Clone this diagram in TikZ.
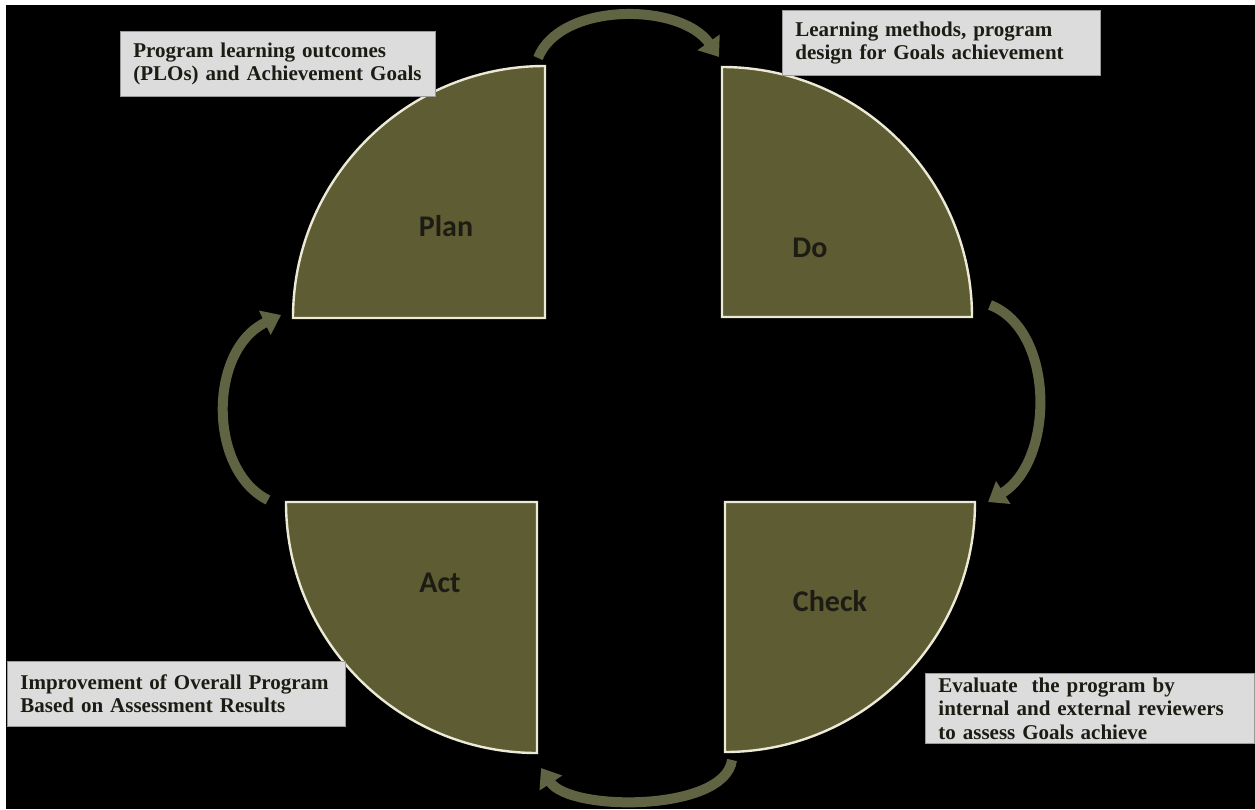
\documentclass[tikz,border=0pt]{standalone}
\usepackage{fontspec}
\setmainfont{Liberation Serif}
\newfontfamily\phasefont{Carlito}
\usepackage{tikz}
\usetikzlibrary{arrows.meta,calc}
\definecolor{olivec}{RGB}{94,92,50}
\definecolor{rimc}{RGB}{236,234,214}
\definecolor{turnc}{RGB}{96,100,66}
\definecolor{notec}{RGB}{220,220,220}
\definecolor{inkc}{RGB}{28,28,20}
\tikzset{
  phase/.style    = {fill=olivec, draw=rimc, line width=2.4pt, line join=miter},
  phaselbl/.style = {font=\phasefont\bfseries\fontsize{30}{34}\selectfont, text=inkc},
  note/.style     = {fill=notec, draw=notec!70!black, line width=0.8pt, anchor=north west,
                     align=left, inner xsep=13pt, inner ysep=0pt, text=inkc,
                     font=\bfseries\fontsize{21}{23.5}\selectfont},
  turn/.style     = {-{Triangle[length=18pt,width=26pt]}, line width=10pt, draw=turnc},
}

\begin{document}
\begin{tikzpicture}[x=1pt, y=1pt]

% ---- page and backdrop ----
\useasboundingbox (0,0) rectangle (1255,-809);
\fill[white] (0,0) rectangle (1255,-809);
\fill[black] (6,-5) rectangle (1255,-809);

% ---- the four quarters ----
\draw[phase] (545,-318) -- (293,-318) arc[start angle=180, end angle=90, radius=252] -- cycle;
\draw[phase] (722,-317) -- (722,-67) arc[start angle=90, end angle=0, radius=250] -- cycle;
\draw[phase] (537,-502) -- (537,-753) arc[start angle=270, end angle=180, radius=251] -- cycle;
\draw[phase] (725,-502) -- (975,-502) arc[start angle=0, end angle=-90, radius=250] -- cycle;

\node[phaselbl] (plan)  at (446,-226) {Plan};
\node[phaselbl] (do)    at (810,-248) {Do};
\node[phaselbl] (act)   at (440,-583) {Act};
\node[phaselbl] (check) at (830,-601) {Check};

% ---- notes ----
\node[note, text width=289pt, minimum height=65pt] (plannote) at (120,-31)
  {Program learning outcomes\\(PLOs) and Achievement Goals};
\node[note, text width=292pt, minimum height=65pt] (donote) at (782,-10)
  {Learning methods, program\\design for Goals achievement};
\node[note, text width=312pt, minimum height=65pt] (actnote) at (7,-661)
  {Improvement of Overall Program\\Based on Assessment Results};
\node[note, text width=303pt, minimum height=70pt] (checknote) at (925,-673)
  {Evaluate\ \ the program by\\internal and external reviewers\\to assess Goals achieve};

% ---- the cycle arrows ----
\coordinate (p1) at (538,-58);   \coordinate (d0) at (719,-57);
\coordinate (d1) at (990,-305);  \coordinate (c0) at (988,-502);
\coordinate (c1) at (732,-760);  \coordinate (a0) at (541,-768);
\coordinate (a1) at (268,-500);  \coordinate (p0) at (281,-315);
\draw[turn] (p1) .. controls (560,-2) and (680,-2) .. (d0);
\draw[turn] (d1) .. controls (1055,-330) and (1055,-460) .. (c0);
\draw[turn] (c1) .. controls (725,-812) and (570,-812) .. (a0);
\draw[turn] (a1) .. controls (208,-470) and (208,-350) .. (p0);

\end{tikzpicture}
\end{document}
